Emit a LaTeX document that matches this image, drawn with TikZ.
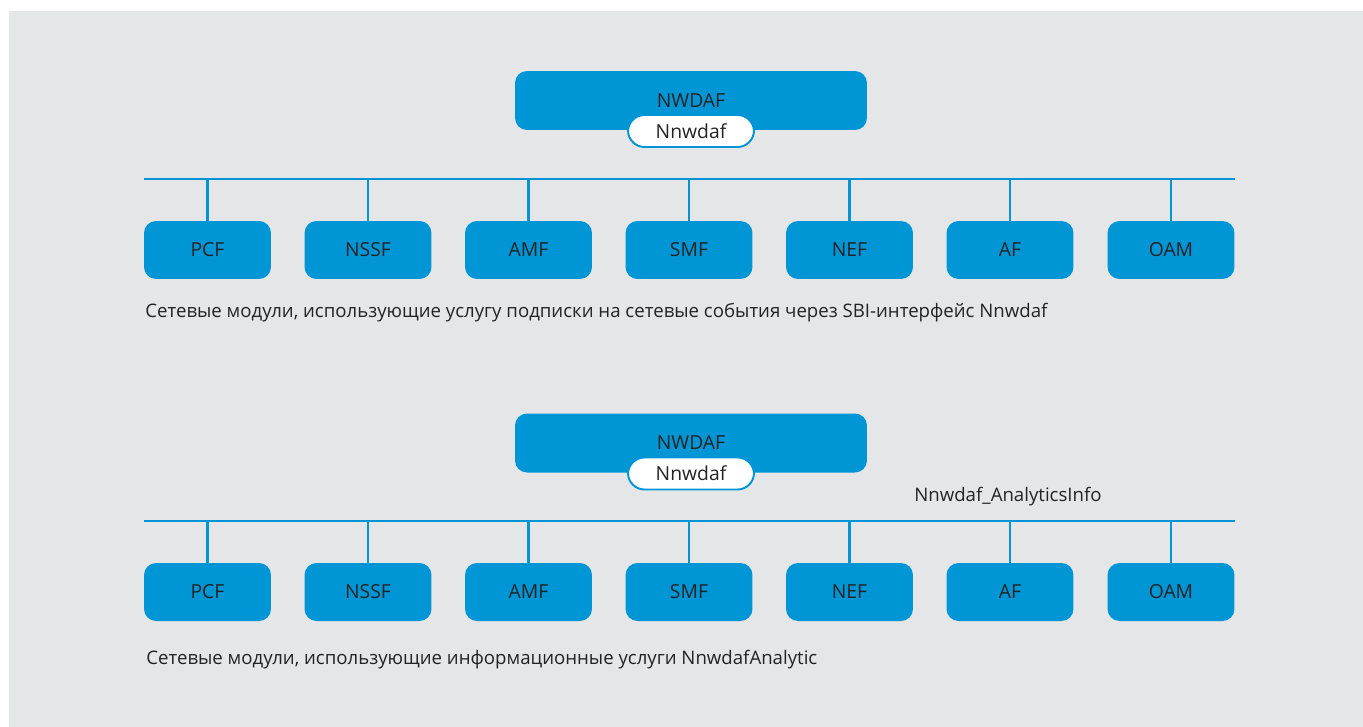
\documentclass[tikz,border=0pt]{standalone}
\usepackage{fontspec}
\setmainfont{Open Sans}
\usepackage{tikz}
\usetikzlibrary{positioning}
\definecolor{nwblue}{RGB}{0,150,214}
\definecolor{bggray}{RGB}{229,230,232}
\definecolor{txtgray}{RGB}{35,35,35}
\tikzset{
  nfbox/.style={fill=nwblue, rounded corners=0.24cm, minimum width=2.54cm,
    minimum height=1.16cm, inner sep=0pt, text=txtgray, font=\fontsize{11}{13}\selectfont},
  nwdafbox/.style={nfbox, minimum width=7.04cm, minimum height=1.18cm},
  pill/.style={fill=white, draw=nwblue, line width=1.1pt, rounded corners=0.33cm,
    minimum width=2.52cm, minimum height=0.64cm, inner sep=0pt, text=txtgray,
    font=\fontsize{11}{13}\selectfont},
  bus/.style={draw=nwblue, line width=1.3pt},
  caption/.style={anchor=west, inner sep=0pt, text=txtgray, font=\fontsize{10.6}{13}\selectfont}
}

\begin{document}
\begin{tikzpicture}[x=0.02cm, y=-0.02cm]
        \useasboundingbox (0,0) rectangle (1363,727);
        %Background
        \fill[bggray] (9,11) rectangle (1363,727);
        %Top: subscription
        \node[nwdafbox] (nwdafA) at (691,100.5) {NWDAF};
        \node[pill] (pillA) at (691,131) {Nnwdaf};
        \coordinate (busAl) at (144,179);
        \coordinate (busAr) at (1235,179);
        \draw[bus] (busAl) -- (busAr);
        \node[nfbox] (t1) at (207.5,250) {PCF};
        \node[nfbox] (t2) at (368,250) {NSSF};
        \node[nfbox] (t3) at (528.5,250) {AMF};
        \node[nfbox] (t4) at (689,250) {SMF};
        \node[nfbox] (t5) at (849.5,250) {NEF};
        \node[nfbox] (t6) at (1010,250) {AF};
        \node[nfbox] (t7) at (1171,250) {OAM};
        \draw[bus] (t1.north) -- (t1.north |- busAl);
        \draw[bus] (t2.north) -- (t2.north |- busAl);
        \draw[bus] (t3.north) -- (t3.north |- busAl);
        \draw[bus] (t4.north) -- (t4.north |- busAl);
        \draw[bus] (t5.north) -- (t5.north |- busAl);
        \draw[bus] (t6.north) -- (t6.north |- busAl);
        \draw[bus] (t7.north) -- (t7.north |- busAl);
        \node[caption] (capA) at (145,313) {Сетевые модули, использующие услугу подписки на сетевые события через SBI-интерфейс Nnwdaf};
        %Bottom: analytics
        \node[nwdafbox] (nwdafB) at (691,443) {NWDAF};
        \node[pill] (pillB) at (691,473.5) {Nnwdaf};
        \node[caption] (infoB) at (914,497) {Nnwdaf\_AnalyticsInfo};
        \coordinate (busBl) at (144,521);
        \coordinate (busBr) at (1235,521);
        \draw[bus] (busBl) -- (busBr);
        \node[nfbox] (b1) at (207.5,592) {PCF};
        \node[nfbox] (b2) at (368,592) {NSSF};
        \node[nfbox] (b3) at (528.5,592) {AMF};
        \node[nfbox] (b4) at (689,592) {SMF};
        \node[nfbox] (b5) at (849.5,592) {NEF};
        \node[nfbox] (b6) at (1010,592) {AF};
        \node[nfbox] (b7) at (1171,592) {OAM};
        \draw[bus] (b1.north) -- (b1.north |- busBl);
        \draw[bus] (b2.north) -- (b2.north |- busBl);
        \draw[bus] (b3.north) -- (b3.north |- busBl);
        \draw[bus] (b4.north) -- (b4.north |- busBl);
        \draw[bus] (b5.north) -- (b5.north |- busBl);
        \draw[bus] (b6.north) -- (b6.north |- busBl);
        \draw[bus] (b7.north) -- (b7.north |- busBl);
        \node[caption] (capB) at (146,660) {Сетевые модули, использующие информационные услуги NnwdafAnalytic};
\end{tikzpicture}
\end{document}
